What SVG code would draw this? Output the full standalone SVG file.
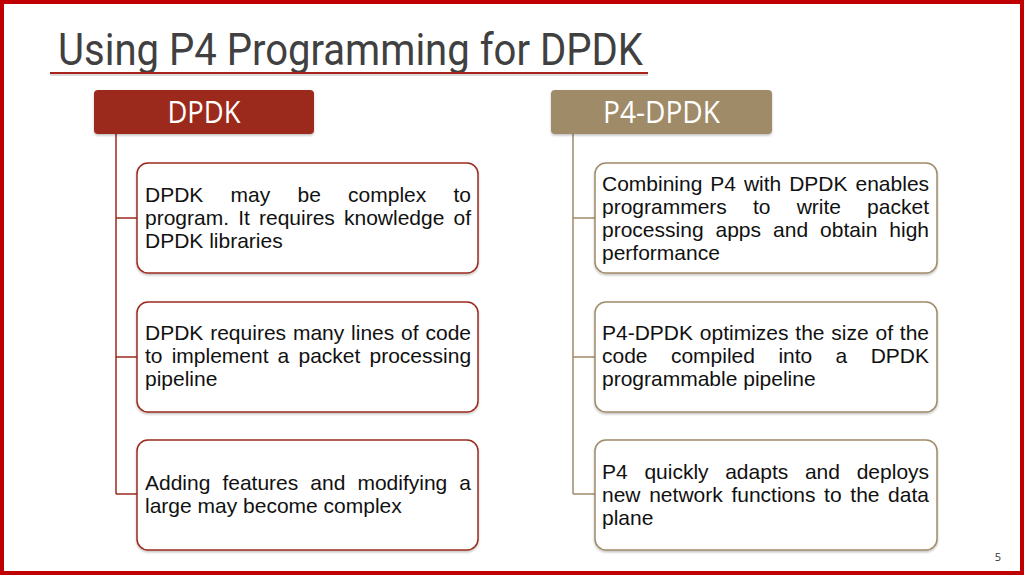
<svg xmlns="http://www.w3.org/2000/svg" width="1024" height="575" viewBox="0 0 1024 575">
<defs>
<style>
.body{font-family:"Liberation Sans",Arial,sans-serif;font-size:21px;fill:#111}
.hdr{font-family:"Open Sans","Liberation Sans",sans-serif;font-size:31px;fill:#fff;text-anchor:middle}
.redbox{fill:#fff;stroke:#9B2B1F;stroke-width:1.5}
.tanbox{fill:#fff;stroke:#A08B68;stroke-width:1.5}
.redline{stroke:#9B2B1F;stroke-width:1.5;fill:none}
.tanline{stroke:#A08B68;stroke-width:1.5;fill:none}
</style>
<filter id="sh" x="-5%" y="-5%" width="110%" height="120%">
<feDropShadow dx="0" dy="1.5" stdDeviation="1" flood-color="#000" flood-opacity="0.25"/>
</filter>
</defs>
<rect x="0" y="0" width="1024" height="575" fill="#fff"/>
<rect x="2" y="2" width="1020" height="571" fill="none" stroke="#C00000" stroke-width="4"/>
<g id="title">
<text x="58" y="65" font-family="Roboto,'Liberation Sans',sans-serif" font-size="45" fill="#404040" textLength="585" lengthAdjust="spacingAndGlyphs">Using P4 Programming for DPDK</text>
<line x1="50" y1="75" x2="648" y2="75" stroke="#999" stroke-width="2" opacity="0.35"/>
<line x1="50" y1="73" x2="648" y2="73" stroke="#A8231B" stroke-width="2"/>
</g>
<g id="connectors">
<path class="redline" d="M116 134 V494 M116 218 H137 M116 357 H137 M116 494 H137"/>
<path class="tanline" d="M573 134 V494 M573 218 H595 M573 357 H595 M573 494 H595"/>
</g>
<g id="hdr-dpdk">
<rect x="94" y="90" width="220" height="44" rx="4" fill="#9B2B1F" filter="url(#sh)"/>
<text class="hdr" x="204" y="123" textLength="73" lengthAdjust="spacingAndGlyphs">DPDK</text>
</g>
<g id="hdr-p4dpdk">
<rect x="551" y="90" width="221" height="44" rx="4" fill="#A08B68" filter="url(#sh)"/>
<text class="hdr" x="661.5" y="123" textLength="117" lengthAdjust="spacingAndGlyphs">P4-DPDK</text>
</g>
<g id="l1">
<rect class="redbox" x="137" y="163" width="341" height="110" rx="11" filter="url(#sh)"/>
<text class="body" y="202"><tspan x="145">DPDK</tspan><tspan x="230.6">may</tspan><tspan x="297.5">be</tspan><tspan x="348.1">complex</tspan><tspan x="453.5">to</tspan></text>
<text class="body" y="225"><tspan x="145">program.</tspan><tspan x="238.2">It</tspan><tspan x="259">requires</tspan><tspan x="344">knowledge</tspan><tspan x="453.5">of</tspan></text>
<text class="body" x="145" y="248">DPDK libraries</text>
</g>
<g id="l2">
<rect class="redbox" x="137" y="302" width="341" height="110" rx="11" filter="url(#sh)"/>
<text class="body" y="340"><tspan x="145">DPDK</tspan><tspan x="210.2">requires</tspan><tspan x="292.9">many</tspan><tspan x="351.1">lines</tspan><tspan x="401.1">of</tspan><tspan x="425.5">code</tspan></text>
<text class="body" y="363"><tspan x="145">to</tspan><tspan x="171.7">implement</tspan><tspan x="277.6">a</tspan><tspan x="298.5">packet</tspan><tspan x="369.5">processing</tspan></text>
<text class="body" x="145" y="386">pipeline</text>
</g>
<g id="l3">
<rect class="redbox" x="137" y="440" width="341" height="110" rx="11" filter="url(#sh)"/>
<text class="body" y="490"><tspan x="145">Adding</tspan><tspan x="222.4">features</tspan><tspan x="310.3">and</tspan><tspan x="357.4">modifying</tspan><tspan x="459.3">a</tspan></text>
<text class="body" x="145" y="513">large may become complex</text>
</g>
<g id="r1">
<rect class="tanbox" x="595" y="163" width="342" height="110" rx="11" filter="url(#sh)"/>
<text class="body" y="191"><tspan x="602">Combining</tspan><tspan x="710.3">P4</tspan><tspan x="743.9">with</tspan><tspan x="789.2">DPDK</tspan><tspan x="855.5">enables</tspan></text>
<text class="body" y="214"><tspan x="602">programmers</tspan><tspan x="753">to</tspan><tspan x="796.7">write</tspan><tspan x="867.1">packet</tspan></text>
<text class="body" y="237"><tspan x="602">processing</tspan><tspan x="715.5">apps</tspan><tspan x="773.1">and</tspan><tspan x="820.1">obtain</tspan><tspan x="889.3">high</tspan></text>
<text class="body" x="602" y="260">performance</text>
</g>
<g id="r2">
<rect class="tanbox" x="595" y="302" width="342" height="110" rx="11" filter="url(#sh)"/>
<text class="body" y="340"><tspan x="602">P4-DPDK</tspan><tspan x="699.8">optimizes</tspan><tspan x="795.3">the</tspan><tspan x="831.3">size</tspan><tspan x="875.5">of</tspan><tspan x="899.8">the</tspan></text>
<text class="body" y="363"><tspan x="602">code</tspan><tspan x="670.9">compiled</tspan><tspan x="778.4">into</tspan><tspan x="835.6">a</tspan><tspan x="870.7">DPDK</tspan></text>
<text class="body" x="602" y="386">programmable pipeline</text>
</g>
<g id="r3">
<rect class="tanbox" x="595" y="440" width="342" height="110" rx="11" filter="url(#sh)"/>
<text class="body" y="479"><tspan x="602">P4</tspan><tspan x="644.4">quickly</tspan><tspan x="725.2">adapts</tspan><tspan x="804.9">and</tspan><tspan x="856.7">deploys</tspan></text>
<text class="body" y="502"><tspan x="602">new</tspan><tspan x="649.2">network</tspan><tspan x="731.4">functions</tspan><tspan x="824.1">to</tspan><tspan x="850.3">the</tspan><tspan x="888.1">data</tspan></text>
<text class="body" x="602" y="525">plane</text>
</g>
<text x="998" y="561" font-family="'Open Sans','Liberation Sans',sans-serif" font-size="11" fill="#333" text-anchor="middle">5</text>
</svg>
